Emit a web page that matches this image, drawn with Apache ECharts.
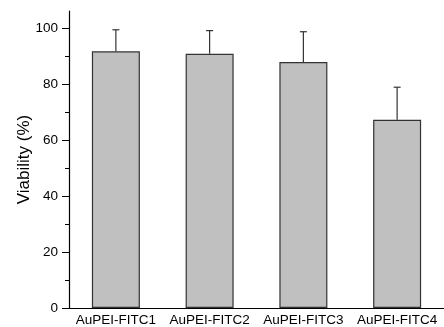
<!DOCTYPE html>
<html>
<head>
<meta charset="utf-8">
<script src="https://cdn.jsdelivr.net/npm/echarts@6/dist/echarts.min.js"></script>
<style>
  html, body { margin: 0; padding: 0; background: #fff; }
  #chart { width: 444px; height: 327px; }
</style>
</head>
<body>
<div id="chart"></div>
<script>
// Cell viability per sample (mean and upper standard deviation)
const categories = ['AuPEI-FITC1', 'AuPEI-FITC2', 'AuPEI-FITC3', 'AuPEI-FITC4'];
const viability = [91.6, 90.7, 87.8, 67.2];
const errorUp = [7.7, 8.3, 10.8, 11.6];
const majorTicks = [0, 20, 40, 60, 80, 100];
const minorTicks = [10, 30, 50, 70, 90];

const FONT = '"Liberation Sans", Arial, sans-serif';

const errorData = categories.map((c, i) => [i, viability[i], viability[i] + errorUp[i]]);

const chart = echarts.init(document.getElementById('chart'));

chart.setOption({
  animation: false,
  grid: { left: 69, top: 11, right: -4, bottom: 18.7 },
  xAxis: {
    type: 'category',
    data: categories,
    boundaryGap: true,
    axisLine: { lineStyle: { color: '#000', width: 1.2 } },
    axisTick: { show: false },
    axisLabel: { color: '#000', fontSize: 13.5, fontFamily: FONT, margin: 5, interval: 0, hideOverlap: false },
    splitLine: { show: false }
  },
  yAxis: [
    {
      type: 'value',
      min: 0,
      max: 106,
      interval: 20,
      name: 'Viability (%)',
      nameLocation: 'middle',
      nameGap: 36,
      nameMoveOverlap: false,
      nameTextStyle: { color: '#000', fontSize: 17, fontFamily: FONT },
      axisLine: { show: true, lineStyle: { color: '#000', width: 1.2 } },
      axisTick: { show: true, length: 7, customValues: majorTicks, lineStyle: { color: '#000' } },
      axisLabel: { color: '#000', fontSize: 13.5, fontFamily: FONT, margin: 11, customValues: majorTicks },
      splitLine: { show: false }
    },
    {
      // minor ticks on the same left axis
      type: 'value',
      position: 'left',
      min: 0,
      max: 106,
      interval: 10,
      axisLine: { show: false },
      axisTick: { show: true, length: 4, customValues: minorTicks, lineStyle: { color: '#000' } },
      axisLabel: { show: false },
      splitLine: { show: false }
    }
  ],
  series: [
    {
      type: 'bar',
      data: viability,
      barWidth: 48,
      itemStyle: { color: '#c0c0c0', borderColor: '#333', borderWidth: 1.2 },
      z: 2
    },
    {
      type: 'custom',
      data: errorData,
      z: 3,
      renderItem: function (params, api) {
        const base = api.coord([api.value(0), api.value(1)]);
        const top = api.coord([api.value(0), api.value(2)]);
        const half = 3.5;
        const style = { stroke: '#333', lineWidth: 1.2 };
        return {
          type: 'group',
          children: [
            { type: 'line', shape: { x1: base[0], y1: base[1], x2: top[0], y2: top[1] }, style: style },
            { type: 'line', shape: { x1: top[0] - half, y1: top[1], x2: top[0] + half, y2: top[1] }, style: style }
          ]
        };
      }
    }
  ]
});
</script>
</body>
</html>
